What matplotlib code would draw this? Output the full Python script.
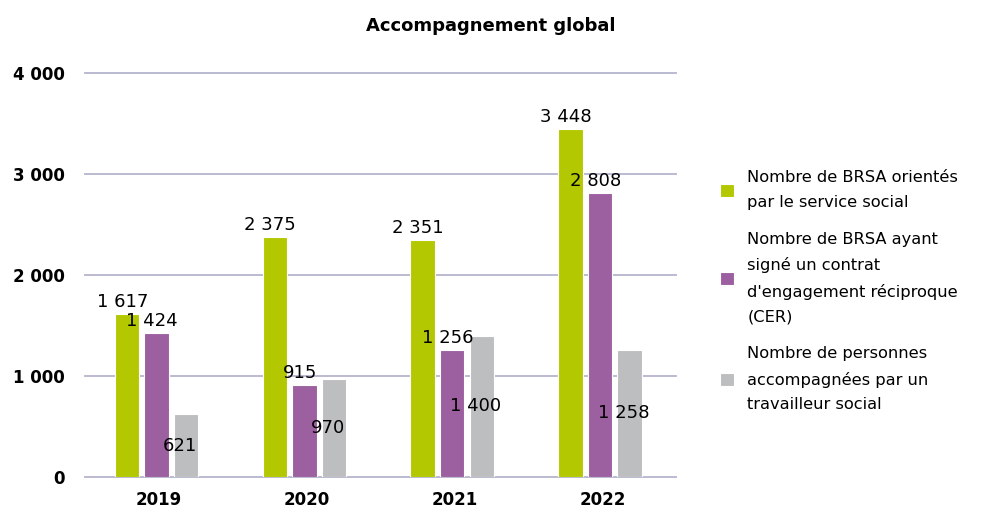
import numpy as np
import matplotlib
matplotlib.use("Agg")
from matplotlib import pyplot as plt

years = ["2019", "2020", "2021", "2022"]
orientes = [1617, 2375, 2351, 3448]
cer = [1424, 915, 1256, 2808]
accompagnes = [621, 970, 1400, 1258]
labels = ["Nombre de BRSA orientés\npar le service social",
          "Nombre de BRSA ayant\nsigné un contrat\nd'engagement réciproque\n(CER)",
          "Nombre de personnes\naccompagnées par un\ntravailleur social"]
colors = ["#B3C800", "#9C5FA0", "#BDBEC0"]

def fmt(v):
    return f"{v:,}".replace(",", " ")

fig = plt.figure(figsize=(9.96, 5.11), dpi=100)
ax = fig.add_axes([0.085, 0.0665, 0.594, 0.7905])

x = np.arange(len(years))
w = 0.165
series = [orientes, cer, accompagnes]
for i, (vals, c, lab) in enumerate(zip(series, colors, labels)):
    pos = x + (i - 1) * 0.2 - 0.015
    ax.bar(pos, vals, w, color=c, edgecolor="white", linewidth=0.8, label=lab, zorder=3)
    for p, v in zip(pos, vals):
        if i == 2:
            ax.text(p - 0.04, v / 2, fmt(v), ha="center", va="center", fontsize=13, zorder=4)
        else:
            ax.text(p - 0.03, v + 30, fmt(v), ha="center", va="bottom", fontsize=13, zorder=4)

ax.set_xlim(-0.5, 3.5)
ax.set_ylim(0, 4000)
ticks = [0, 1000, 2000, 3000, 4000]
ax.set_yticks(ticks)
ax.set_yticklabels([fmt(v) for v in ticks], fontweight="bold", fontsize=12)
ax.set_xticks(x)
ax.set_xticklabels(years, fontweight="bold", fontsize=12)
ax.tick_params(length=0, axis="y", pad=14)
ax.tick_params(length=0, axis="x", pad=10)
for t in ticks:
    ax.axhline(t, color="#B4B4CE", linewidth=1.3, zorder=0, clip_on=False)
for s in ax.spines.values():
    s.set_visible(False)

fig.text(0.493, 0.95, "Accompagnement global", ha="center", va="center",
         fontsize=13, fontweight="bold")

leg = ax.legend(loc="center left", bbox_to_anchor=(1.05, 0.46), frameon=False,
                fontsize=11.7, handlelength=0.85, handleheight=0.85, labelspacing=1.35,
                handletextpad=0.8)
for t in leg.get_texts():
    t.set_linespacing(1.8)

fig.savefig("out.png", dpi=100)
